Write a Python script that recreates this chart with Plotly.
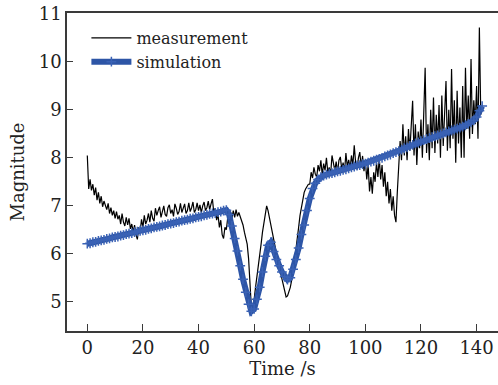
import plotly.graph_objects as go

# ---- data ----
meas_start = 0.0
meas_step = 0.5
measurement = [
    8.05, 7.35, 7.55, 7.32, 7.45, 7.22, 7.38, 7.12, 7.28, 7.05,
    7.2, 6.98, 7.1, 7.02, 6.92, 7.05, 6.84, 6.96, 6.8, 6.9,
    6.74, 6.88, 6.72, 6.8, 6.62, 6.84, 6.66, 6.58, 6.76, 6.6,
    6.74, 6.52, 6.62, 6.45, 6.6, 6.4, 6.3, 6.55, 6.46, 6.72,
    6.55, 6.8, 6.62, 6.7, 6.84, 6.66, 6.9, 6.74, 6.68, 6.95,
    6.8, 6.9, 6.98, 6.76, 6.86, 7.0, 6.82, 6.78, 6.96, 7.02,
    6.84, 6.92, 6.78, 7.04, 6.95, 6.82, 6.88, 7.05, 6.86, 6.98,
    7.04, 6.84, 6.9, 7.06, 6.88, 6.96, 7.08, 6.86, 6.92, 7.06,
    6.9, 7.02, 6.86, 7.0, 7.08, 6.9, 6.96, 7.1, 6.92, 7.04,
    7.14, 6.85, 6.95, 6.7, 6.82, 6.55, 6.7, 6.4, 6.32, 6.55,
    6.5, 6.75, 6.65, 6.88, 6.74, 6.9, 6.76, 6.92, 6.78, 6.86,
    6.78, 6.7, 6.6, 6.45, 6.3, 6.2, 5.9, 5.45, 4.88, 4.9,
    5.05, 5.3, 5.5, 5.75, 5.95, 6.2, 6.45, 6.65, 6.9, 7.0,
    6.9, 6.75, 6.55, 6.4, 6.28, 6.15, 6.0, 5.85, 5.72, 5.6,
    5.48, 5.35, 5.22, 5.1, 5.12, 5.2, 5.3, 5.45, 5.6, 5.85,
    6.05, 6.3, 6.55, 6.8, 6.98, 7.15, 7.28, 7.35, 7.42, 7.45,
    7.45, 7.7, 7.58, 7.8, 7.66, 7.6, 7.85, 7.72, 7.95, 7.64,
    7.88, 7.74, 8.0, 7.7, 7.8, 7.65, 8.05, 7.88, 7.74, 7.92,
    7.7, 7.95, 8.02, 7.76, 7.9, 7.7, 8.1, 7.82, 7.96, 7.78,
    8.05, 7.84, 8.26, 7.9, 7.76, 8.0, 8.12, 7.8, 8.04, 7.72,
    7.95, 7.55, 7.85, 7.3, 7.6, 7.25, 7.7, 7.5, 7.9, 7.6,
    8.0, 7.55, 7.85, 7.4, 7.7, 7.2, 7.5, 7.05, 7.35, 6.9,
    7.2, 6.8, 6.66, 7.3, 7.8, 8.35, 7.95, 8.7, 8.05, 8.45,
    7.95, 8.6, 8.15, 8.75, 9.19, 8.05, 8.7, 7.85, 8.55, 8.2,
    8.8, 8.0, 8.9, 9.88, 8.1, 8.7, 7.95, 9.0, 8.2, 9.26,
    8.1, 8.9, 8.3, 9.1, 8.0, 9.3, 8.25, 8.95, 9.6, 8.15,
    9.0, 8.2, 9.85, 8.4, 9.2, 7.9, 9.4, 8.3, 9.05, 8.0,
    9.5, 8.0, 9.88, 8.6, 9.3, 8.4, 10.06, 8.5, 9.2, 8.7,
    9.5, 8.4, 10.72, 8.9, 9.1,
]

sim_start = 0.0
sim_step = 1.0
simulation = [
    6.21, 6.22, 6.24, 6.25, 6.27, 6.28, 6.29, 6.31, 6.32, 6.34,
    6.35, 6.36, 6.38, 6.39, 6.41, 6.42, 6.43, 6.45, 6.46, 6.48,
    6.49, 6.5, 6.52, 6.53, 6.55, 6.56, 6.57, 6.59, 6.6, 6.62,
    6.63, 6.64, 6.66, 6.67, 6.69, 6.7, 6.71, 6.73, 6.74, 6.76,
    6.77, 6.78, 6.8, 6.81, 6.83, 6.84, 6.85, 6.87, 6.88, 6.9,
    6.91, 6.82, 6.58, 6.32, 6.06, 5.75, 5.47, 5.2, 4.95, 4.8,
    4.85, 5.05, 5.3, 5.62, 5.95, 6.18, 6.24, 6.05, 5.88, 5.75,
    5.62, 5.52, 5.46, 5.5, 5.68, 5.88, 6.12, 6.4, 6.6, 6.9,
    7.15, 7.36, 7.47, 7.55, 7.6, 7.63, 7.65, 7.67, 7.68, 7.7,
    7.72, 7.73, 7.75, 7.76, 7.78, 7.8, 7.82, 7.84, 7.85, 7.87,
    7.88, 7.9, 7.92, 7.94, 7.96, 7.98, 8.0, 8.03, 8.05, 8.07,
    8.1, 8.12, 8.14, 8.17, 8.2, 8.22, 8.25, 8.27, 8.3, 8.32,
    8.35, 8.37, 8.39, 8.41, 8.43, 8.45, 8.47, 8.49, 8.51, 8.53,
    8.55, 8.57, 8.59, 8.61, 8.63, 8.65, 8.68, 8.71, 8.74, 8.78,
    8.85, 8.98, 9.08,
]

x_ticks = [0, 20, 40, 60, 80, 100, 120, 140]
y_ticks = [5, 6, 7, 8, 9, 10, 11]
series_names = ["measurement", "simulation"]
x_title = "Time /s"
y_title = "Magnitude"

meas_t = [meas_start + i * meas_step for i in range(len(measurement))]
sim_t = [sim_start + i * sim_step for i in range(len(simulation))]

FONT = "DejaVu Serif, serif"
BLUE = "#2d55a6"
AX = "#3a3a3a"
TXT = "#222222"

fig = go.Figure()
fig.add_trace(go.Scatter(
    x=meas_t, y=measurement, name=series_names[0], mode="lines",
    line=dict(color="black", width=1.2),
))
fig.add_trace(go.Scatter(
    x=sim_t, y=simulation, name=series_names[1], mode="lines+markers",
    line=dict(color=BLUE, width=6),
    marker=dict(symbol="cross-thin", size=7, line=dict(color="#3a62b5", width=1.5), color=BLUE),
))

title_font = dict(family=FONT, size=18, color=TXT)
fig.update_layout(
    width=498, height=385,
    margin=dict(l=67, r=0, t=13, b=54),
    paper_bgcolor="white", plot_bgcolor="white",
    font=dict(family=FONT, size=18, color=TXT),
    showlegend=True,
    legend=dict(x=0.045, y=0.975, xanchor="left", yanchor="top",
                bgcolor="rgba(0,0,0,0)", font=dict(size=16, family=FONT, color=TXT),
                tracegroupgap=0, itemwidth=40),
    xaxis=dict(
        range=[-7.3, 147.7], tickmode="array", tickvals=x_ticks,
        ticktext=[str(v) for v in x_ticks], ticks="inside", ticklen=7,
        tickcolor=AX, tickwidth=1.2, showline=True, linecolor=AX, linewidth=1.5,
        mirror=True, showgrid=False, zeroline=False,
        tickfont=dict(family="DejaVu Serif", size=18, color=TXT),
        title=dict(text=x_title, standoff=4, font=title_font),
    ),
    yaxis=dict(
        range=[4.39, 11.02], tickmode="array", tickvals=y_ticks,
        ticktext=[str(v) for v in y_ticks], ticks="inside", ticklen=6,
        tickcolor=AX, tickwidth=1.2, showline=True, linecolor=AX, linewidth=1.5,
        showgrid=False, zeroline=False,
        tickfont=dict(family="DejaVu Serif", size=18, color=TXT),
        title=dict(text=y_title, standoff=9, font=title_font),
    ),
)

fig.write_html("out.html")
